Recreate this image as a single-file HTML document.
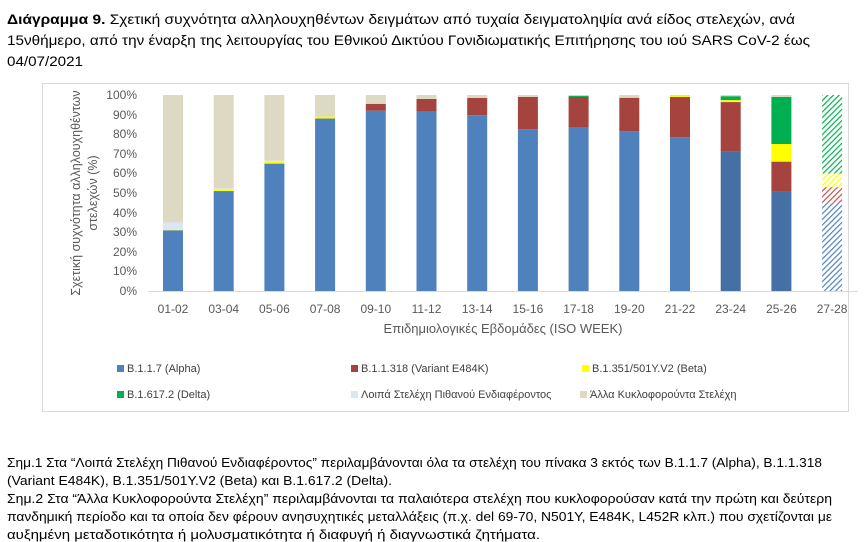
<!DOCTYPE html>
<html><head><meta charset="utf-8"><style>
html,body{margin:0;padding:0;background:#fff;}
svg{display:block;font-family:"Liberation Sans","DejaVu Sans",sans-serif;}
</style></head><body>
<svg width="868" height="542" viewBox="0 0 868 542" xmlns="http://www.w3.org/2000/svg">
<defs>
<pattern id="hb" patternUnits="userSpaceOnUse" width="4" height="4" patternTransform="rotate(45)"><rect width="4" height="4" fill="#fff"/><rect width="1.2" height="4" fill="#4f81bd"/></pattern>
<pattern id="hr" patternUnits="userSpaceOnUse" width="4" height="4" patternTransform="rotate(45)"><rect width="4" height="4" fill="#fff"/><rect width="1.2" height="4" fill="#c0504d"/></pattern>
<pattern id="hy" patternUnits="userSpaceOnUse" width="4" height="4" patternTransform="rotate(45)"><rect width="4" height="4" fill="#fff"/><rect width="1.2" height="4" fill="#ffff00"/></pattern>
<pattern id="hg" patternUnits="userSpaceOnUse" width="4" height="4" patternTransform="rotate(45)"><rect width="4" height="4" fill="#fff"/><rect width="1.2" height="4" fill="#00b050"/></pattern>
</defs>
<g font-size="14" fill="#000">
<text x="7" y="24" textLength="788" lengthAdjust="spacingAndGlyphs"><tspan font-weight="bold">Διάγραμμα 9.</tspan> Σχετική συχνότητα αλληλουχηθέντων δειγμάτων από τυχαία δειγματοληψία ανά είδος στελεχών, ανά</text>
<text x="7" y="45" textLength="803" lengthAdjust="spacingAndGlyphs">15νθήμερο, από την έναρξη της λειτουργίας του Εθνικού Δικτύου Γονιδιωματικής Επιτήρησης του ιού SARS CoV-2 έως</text>
<text x="7" y="66" textLength="76" lengthAdjust="spacingAndGlyphs">04/07/2021</text>
</g>
<rect x="42.5" y="83.5" width="806" height="328" fill="#fff" stroke="#d9d9d9"/>
<g font-size="12" fill="#595959" text-anchor="end">
<text x="137" y="99">100%</text><text x="137" y="119">90%</text><text x="137" y="138">80%</text><text x="137" y="158">70%</text><text x="137" y="177">60%</text><text x="137" y="197">50%</text><text x="137" y="217">40%</text><text x="137" y="236">30%</text><text x="137" y="256">20%</text><text x="137" y="275">10%</text><text x="137" y="295">0%</text>
</g>
<g font-size="12.5" fill="#595959" text-anchor="middle">
<text transform="translate(80,193) rotate(-90)">Σχετική συχνότητα αλληλουχηθέντων</text>
<text transform="translate(97,193) rotate(-90)">στελεχών (%)</text>
</g>
<g id="bars"></g>
<line x1="148" y1="291.5" x2="858" y2="291.5" stroke="#d9d9d9"/>
<g font-size="12" fill="#595959" text-anchor="middle" id="xl"></g>
<text x="503" y="333" font-size="13" fill="#595959" text-anchor="middle">Επιδημιολογικές Εβδομάδες (ISO WEEK)</text>
<g font-size="11" fill="#404040">
<rect x="117" y="365" width="7" height="7" fill="#4f81bd"/><text x="127" y="372">B.1.1.7 (Alpha)</text>
<rect x="351" y="365" width="7" height="7" fill="#a5443f"/><text x="361" y="372">B.1.1.318 (Variant E484K)</text>
<rect x="582" y="365" width="7" height="7" fill="#ffff00"/><text x="592" y="372">B.1.351/501Y.V2 (Beta)</text>
<rect x="117" y="391" width="7" height="7" fill="#00b050"/><text x="127" y="398">B.1.617.2 (Delta)</text>
<rect x="351" y="391" width="7" height="7" fill="#dce6f2"/><text x="361" y="398">Λοιπά Στελέχη Πιθανού Ενδιαφέροντος</text>
<rect x="580" y="391" width="7" height="7" fill="#ddd9c3"/><text x="590" y="398">Άλλα Κυκλοφορούντα Στελέχη</text>
</g>
<g font-size="12.5" fill="#000">
<text x="7" y="467" textLength="815" lengthAdjust="spacingAndGlyphs">Σημ.1 Στα “Λοιπά Στελέχη Πιθανού Ενδιαφέροντος” περιλαμβάνονται όλα τα στελέχη του πίνακα 3 εκτός των B.1.1.7 (Alpha), B.1.1.318</text>
<text x="7" y="485" textLength="385" lengthAdjust="spacingAndGlyphs">(Variant E484K), B.1.351/501Y.V2 (Beta) και B.1.617.2 (Delta).</text>
<text x="7" y="503" textLength="825" lengthAdjust="spacingAndGlyphs">Σημ.2 Στα “Άλλα Κυκλοφορούντα Στελέχη” περιλαμβάνονται τα παλαιότερα στελέχη που κυκλοφορούσαν κατά την πρώτη και δεύτερη</text>
<text x="7" y="521" textLength="825" lengthAdjust="spacingAndGlyphs">πανδημική περίοδο και τα οποία δεν φέρουν ανησυχητικές μεταλλάξεις (π.χ. del 69-70, N501Y, E484K, L452R κλπ.) που σχετίζονται με</text>
<text x="7" y="539" textLength="533" lengthAdjust="spacingAndGlyphs">αυξημένη μεταδοτικότητα ή μολυσματικότητα ή διαφυγή ή διαγνωστικά ζητήματα.</text>
</g>
<script>
var data=[
["01-02",[31,0,0.5,0,3.5]],
["03-04",[51,0,1,0,0.5]],
["05-06",[65,0,1,0,0.5]],
["07-08",[88,0,1,0,0]],
["09-10",[92,3.5,0,0,0]],
["11-12",[91.5,6.5,0,0,0]],
["13-14",[89.7,8.8,0,0,0]],
["15-16",[82.6,16.4,0,0,0]],
["17-18",[83.3,15.7,0,0.6,0]],
["19-20",[81.6,17,0,0,0]],
["21-22",[78.5,20.5,0.5,0,0]],
["23-24",[71,25.4,1,2,0]],
["25-26",[51,15,9,24,0]],
["27-28",[45,8,7,40,0]]];
var cols=["#4f81bd","#a5443f","#ffff00","#00b050","#dce6f2","#ddd9c3"];
var hat=["url(#hb)","url(#hr)","url(#hy)","url(#hg)"];
var ns="http://www.w3.org/2000/svg",g=document.getElementById("bars"),xl=document.getElementById("xl");
var y0=291,s=1.96;
data.forEach(function(d,i){
 var cx=173+i*50.7,x=cx-10,acc=0,v=d[1].slice();
 var sum=v.reduce(function(a,b){return a+b},0);
 if(i<13)v.push(100-sum);
 v.forEach(function(p,k){
  if(p<=0)return;
  var r=document.createElementNS(ns,"rect");
  r.setAttribute("x",x);r.setAttribute("width",20);
  r.setAttribute("y",y0-(acc+p)*s);r.setAttribute("height",p*s);
  var c=cols[k];
  if(k==0&&(i==11||i==12))c="#4470a6";
  if(i==13)c=hat[k];
  r.setAttribute("fill",c);
  g.appendChild(r);acc+=p;
 });
 var t=document.createElementNS(ns,"text");
 t.setAttribute("x",cx);t.setAttribute("y",313);t.textContent=d[0];xl.appendChild(t);
});
</script>
</svg>
</body></html>
